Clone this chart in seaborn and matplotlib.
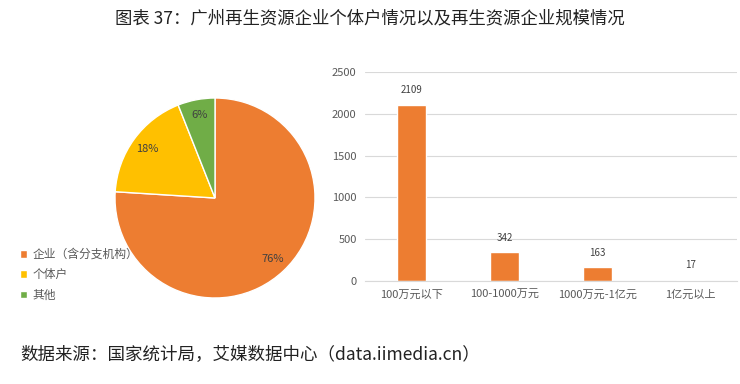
import matplotlib
matplotlib.use("Agg")
import matplotlib.pyplot as plt
import seaborn as sns
import pandas as pd

sns.set_style("white")
plt.rcParams['font.family'] = ['Noto Sans CJK SC', 'DejaVu Sans']

# pie data
pie_labels = ["企业（含分支机构）", "个体户", "其他"]
pie_values = [76, 18, 6]
pie_colors = ["#ED7D31", "#FFC000", "#70AD47"]

# bar data
bar_cats = ["100万元以下", "100-1000万元", "1000万元-1亿元", "1亿元以上"]
bar_values = [2109, 342, 163, 17]
bar_ticks = [0, 500, 1000, 1500, 2000, 2500]

title = "图表 37：广州再生资源企业个体户情况以及再生资源企业规模情况"
source = "数据来源：国家统计局，艾媒数据中心（data.iimedia.cn）"

fig = plt.figure(figsize=(7.4, 3.84), dpi=100)
fig.text(0.5, 0.953, title, ha="center", va="center", fontsize=12.5, color="#222222")
fig.text(0.027, 0.075, source, ha="left", va="center", fontsize=12.6, color="#222222")

# Pie
ax1 = fig.add_axes([115 / 740, 1 - 298 / 384, 200 / 740, 200 / 384])
wedges, texts, autotexts = ax1.pie(
    pie_values, colors=pie_colors, startangle=90, counterclock=False,
    autopct=lambda p: f"{p:.0f}%", pctdistance=0.84,
    wedgeprops=dict(edgecolor="white", linewidth=1),
    textprops=dict(fontsize=8, color="#404040"))
ax1.set_xlim(-1, 1)
ax1.set_ylim(-1, 1)
ax1.set_aspect("equal")
fig.legend(wedges, pie_labels, loc="upper left", bbox_to_anchor=(0.027, 1 - 248 / 384),
           frameon=False, fontsize=8.5, labelcolor="#595959", borderaxespad=0, borderpad=0,
           handlelength=0.6, handleheight=0.6, handletextpad=0.5, labelspacing=0.62)

# Bars
ax2 = fig.add_axes([365 / 740, 1 - 281 / 384, 372 / 740, 209 / 384])
df = pd.DataFrame({"cat": bar_cats, "val": bar_values})
sns.barplot(data=df, x="cat", y="val", color="#ED7D31", width=0.32,
            saturation=1, ax=ax2)
for i, v in enumerate(bar_values):
    ax2.text(i, v + 110, str(v), ha="center", va="bottom", fontsize=7, color="#404040")
ax2.set_ylim(0, 2500)
ax2.set_yticks(bar_ticks)
ax2.set_xlabel("")
ax2.set_ylabel("")
ax2.grid(axis="y", color="#D9D9D9", linewidth=0.8)
ax2.set_axisbelow(True)
for s in ["top", "right", "left"]:
    ax2.spines[s].set_visible(False)
ax2.spines["bottom"].set_color("#D9D9D9")
ax2.tick_params(axis="both", labelsize=8, labelcolor="#595959", length=0, pad=6)

fig.savefig("out.png", dpi=100)
